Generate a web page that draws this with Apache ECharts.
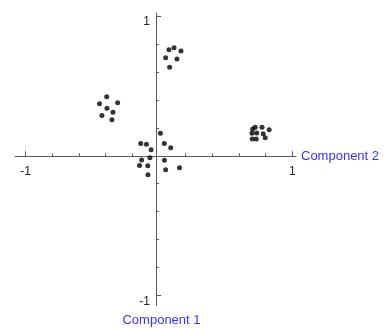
<!DOCTYPE html>
<html>
<head>
<meta charset="utf-8">
<script src="https://cdn.jsdelivr.net/npm/echarts@6/dist/echarts.min.js"></script>
<style>html,body{margin:0;padding:0;background:#fff;}#c{width:385px;height:329px;}</style>
</head>
<body>
<div id="c"></div>
<script>
// Component 2 (horizontal) and Component 1 (vertical) scores
const comp2 = [
  0.075, 0.113, 0.165, 0.050, 0.135, 0.080,
  -0.392, -0.446, -0.310, -0.390, -0.345, -0.428, -0.353,
  0.011, -0.137, -0.094, 0.040, 0.088, -0.059, -0.130, -0.068, 0.041, -0.146, -0.084, 0.050, 0.154, -0.083,
  0.703, 0.722, 0.773, 0.827, 0.698, 0.733, 0.782, 0.700, 0.730, 0.797
];
const comp1 = [
  0.759, 0.773, 0.750, 0.702, 0.692, 0.633,
  0.423, 0.372, 0.379, 0.340, 0.311, 0.288, 0.258,
  0.161, 0.088, 0.082, 0.088, 0.057, 0.043, -0.030, -0.015, -0.033, -0.070, -0.071, -0.100, -0.086, -0.136,
  0.191, 0.204, 0.204, 0.186, 0.161, 0.163, 0.158, 0.120, 0.120, 0.129
];
const minorTicks = [-1, -0.8, -0.6, -0.4, -0.2, 0.2, 0.4, 0.6, 0.8, 1];
const majorTicks = [-1, 1];
const tickLabels = [-1, 1];
const xName = 'Component 2';
const yName = 'Component 1';

const points = comp2.map((x, i) => [x, comp1[i]]);
const axisColor = '#5a5a5a';
const font = 'Arial, "Liberation Sans", sans-serif';

const chart = echarts.init(document.getElementById('c'), null, {renderer: 'canvas'});
chart.setOption({
  animation: false,
  backgroundColor: '#ffffff',
  grid: {left: 15, top: 13.2, width: 281, height: 292.1, containLabel: false, outerBoundsMode: 'none'},
  xAxis: [{
    type: 'value', min: -1.08, max: 1.028, position: 'bottom', offset: -149,
    axisLine: {show: true, onZero: false, lineStyle: {color: axisColor, width: 1}},
    axisTick: {show: true, inside: true, length: 3, customValues: minorTicks, lineStyle: {color: axisColor}},
    axisLabel: {show: true, customValues: tickLabels, margin: 9, color: '#222', fontSize: 12, fontFamily: font,
      formatter: v => String(v)},
    splitLine: {show: false},
    name: xName, nameLocation: 'end', nameGap: 5,
    nameTextStyle: {color: '#3333ff', fontSize: 13, fontFamily: font, verticalAlign: 'middle', align: 'left'}
  }, {
    type: 'value', min: -1.08, max: 1.028, position: 'bottom', offset: -149,
    axisLine: {show: false, onZero: false},
    axisTick: {show: true, inside: true, length: 5, customValues: majorTicks, lineStyle: {color: axisColor}},
    axisLabel: {show: false},
    splitLine: {show: false}
  }],
  yAxis: [{
    type: 'value', min: -1.07, max: 1.02, position: 'left', offset: -141,
    axisLine: {show: true, onZero: false, lineStyle: {color: axisColor, width: 1}},
    axisTick: {show: true, inside: true, length: 3, customValues: minorTicks, lineStyle: {color: axisColor}},
    axisLabel: {show: true, customValues: tickLabels, margin: 6, color: '#222', fontSize: 12, fontFamily: font,
      verticalAlign: 'top', formatter: v => String(v)},
    splitLine: {show: false},
    name: yName, nameLocation: 'start', nameGap: 9,
    nameTextStyle: {color: '#3333ff', fontSize: 13, fontFamily: font, padding: [0, 0, 0, 11]}
  }, {
    type: 'value', min: -1.07, max: 1.02, position: 'left', offset: -141,
    axisLine: {show: false, onZero: false},
    axisTick: {show: true, inside: true, length: 5, customValues: majorTicks, lineStyle: {color: axisColor}},
    axisLabel: {show: false},
    splitLine: {show: false}
  }],
  series: [{
    type: 'scatter',
    xAxisIndex: 0, yAxisIndex: 0,
    data: points,
    symbol: 'circle',
    symbolSize: 5,
    itemStyle: {color: '#000000'},
    silent: true
  }]
});
</script>
</body>
</html>
